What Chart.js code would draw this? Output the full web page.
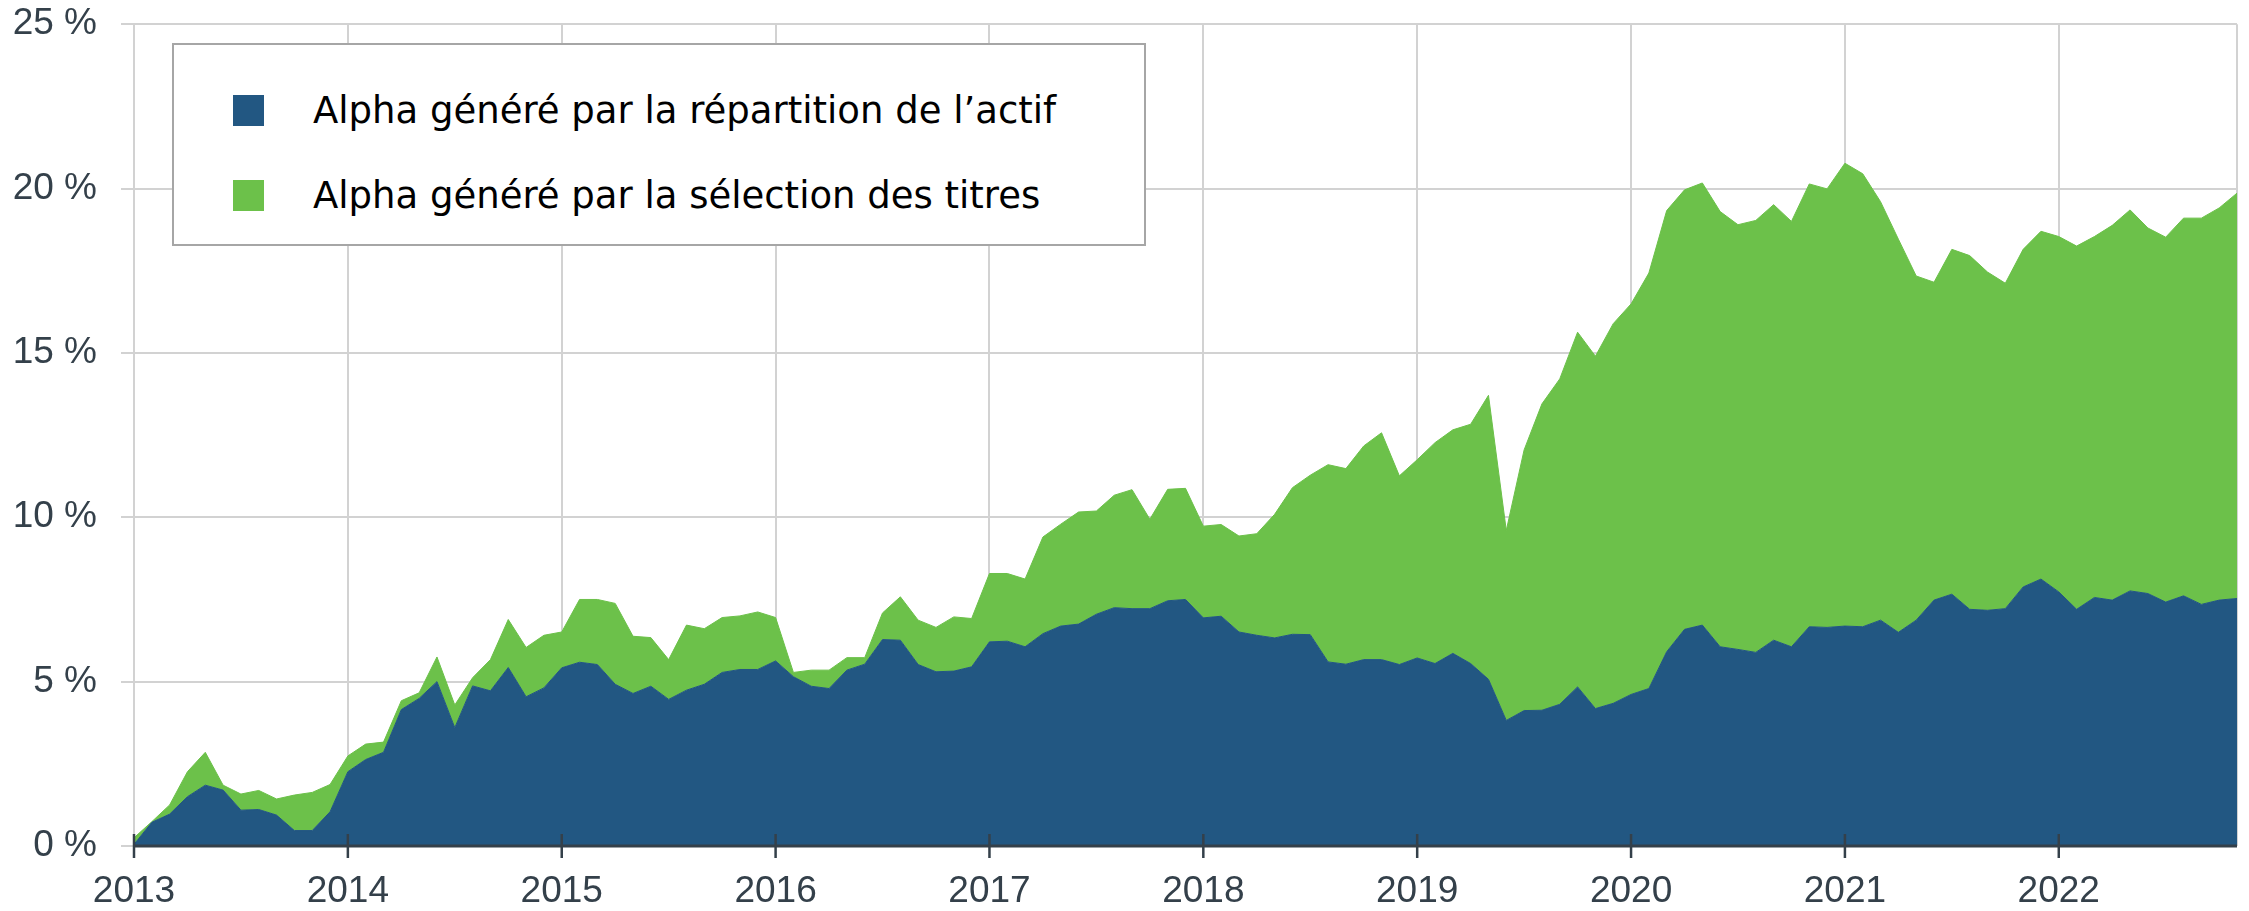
<!DOCTYPE html>
<html>
<head>
<meta charset="utf-8">
<script src="https://cdn.jsdelivr.net/npm/chart.js@4"></script>
<style>
  body { margin: 0; background: #fff; }
  #wrap { position: relative; width: 2249px; height: 911px; }
  #legend {
    position: absolute; left: 172px; top: 43px; width: 970px; height: 199px;
    background: #fff; border: 2px solid #a6a6a6;
    font-family: "DejaVu Sans", "Liberation Sans", sans-serif; font-size: 37px; color: #000;
  }
  .item { position: absolute; left: 59px; height: 40px; display: flex; align-items: center; white-space: nowrap; }
  .box { width: 31px; height: 31px; margin-right: 49px; }
</style>
</head>
<body>
<div id="wrap">
  <canvas id="chart"></canvas>
  <div id="legend"></div>
</div>
<script>
const yearLabels = ["2013", "2014", "2015", "2016", "2017", "2018", "2019", "2020", "2021", "2022"];

// monthly values, Jan 2013 - Nov 2022 (%)
const allocation = [
  0.05, 0.72, 0.97, 1.50, 1.85, 1.70, 1.09, 1.11, 0.94, 0.47, 0.47, 1.04,
  2.26, 2.63, 2.85, 4.15, 4.49, 5.00, 3.60, 4.87, 4.72, 5.43, 4.54, 4.81,
  5.42, 5.59, 5.52, 4.92, 4.64, 4.86, 4.46, 4.74, 4.92, 5.28, 5.37, 5.37,
  5.63, 5.15, 4.86, 4.79, 5.35, 5.53, 6.28, 6.26, 5.52, 5.30, 5.32, 5.45,
  6.21, 6.23, 6.06, 6.46, 6.69, 6.75, 7.05, 7.25, 7.22, 7.22, 7.46, 7.50,
  6.94, 6.99, 6.51, 6.41, 6.33, 6.44, 6.43, 5.60, 5.53, 5.67, 5.67, 5.52,
  5.72, 5.55, 5.86, 5.55, 5.07, 3.82, 4.12, 4.13, 4.31, 4.84, 4.18, 4.34,
  4.61, 4.79, 5.91, 6.59, 6.72, 6.06, 5.98, 5.89, 6.26, 6.06, 6.67, 6.65,
  6.69, 6.67, 6.87, 6.50, 6.87, 7.48, 7.66, 7.20, 7.17, 7.22, 7.88, 8.12,
  7.73, 7.20, 7.56, 7.48, 7.76, 7.68, 7.42, 7.61, 7.35, 7.48, 7.53
];

const selection = [
  0.20, 0.02, 0.28, 0.76, 1.00, 0.15, 0.49, 0.58, 0.49, 1.08, 1.16, 0.83,
  0.48, 0.47, 0.31, 0.27, 0.17, 0.75, 0.69, 0.25, 0.95, 1.46, 1.50, 1.60,
  1.09, 1.91, 1.98, 2.46, 1.74, 1.48, 1.21, 1.98, 1.69, 1.67, 1.63, 1.75,
  1.32, 0.13, 0.49, 0.56, 0.38, 0.20, 0.81, 1.32, 1.35, 1.35, 1.65, 1.47,
  2.08, 2.06, 2.06, 2.94, 3.10, 3.41, 3.14, 3.42, 3.62, 2.72, 3.39, 3.38,
  2.79, 2.79, 2.92, 3.09, 3.76, 4.46, 4.85, 6.00, 5.95, 6.50, 6.90, 5.74,
  6.03, 6.72, 6.80, 7.28, 8.64, 5.78, 7.93, 9.32, 9.90, 10.79, 10.72, 11.55,
  11.88, 12.64, 13.42, 13.37, 13.45, 13.24, 12.92, 13.14, 13.25, 12.94, 13.47, 13.34,
  14.08, 13.78, 12.73, 11.96, 10.47, 9.67, 10.49, 10.76, 10.29, 9.90, 10.27, 10.58,
  10.81, 11.05, 10.98, 11.40, 11.59, 11.12, 11.10, 11.49, 11.75, 11.93, 12.33
];

const seriesNames = ["Alpha généré par la répartition de l’actif", "Alpha généré par la sélection des titres"];
const seriesColors = ["#225782", "#6cc14a"];

const months = [];
yearLabels.forEach((y) => {
  for (let m = 1; m <= 12; m++) months.push(y + "-" + String(m).padStart(2, "0"));
});
months.length = allocation.length;

const axisColor = "#34404a";
const gridColor = "#d2d2d2";
const fontFamily = "'Liberation Sans', Arial, sans-serif";

// dark year ticks crossing the x axis, drawn over the areas
const axisTicks = {
  id: "axisTicks",
  afterDatasetsDraw(chart) {
    const { ctx, scales: { x }, chartArea } = chart;
    ctx.save();
    ctx.strokeStyle = axisColor;
    ctx.lineWidth = 3;
    ctx.beginPath();
    ctx.moveTo(chartArea.left, chartArea.bottom);
    ctx.lineTo(chartArea.right, chartArea.bottom);
    ctx.stroke();
    ctx.lineWidth = 2.5;
    x.ticks.forEach((t, i) => {
      if (i % 12 !== 0) return;
      const px = x.getPixelForTick(i);
      ctx.beginPath();
      ctx.moveTo(px, chartArea.bottom - 12);
      ctx.lineTo(px, chartArea.bottom + 12);
      ctx.stroke();
    });
    ctx.restore();
  },
};

const canvas = document.getElementById("chart");
const chart = new Chart(canvas.getContext("2d"), {
  type: "line",
  data: {
    labels: months,
    datasets: [
      {
        label: seriesNames[0],
        data: allocation,
        backgroundColor: seriesColors[0],
        borderColor: seriesColors[0],
        borderWidth: 1,
        pointRadius: 0,
        fill: "origin",
      },
      {
        label: seriesNames[1],
        data: selection,
        backgroundColor: seriesColors[1],
        borderColor: seriesColors[1],
        borderWidth: 1,
        pointRadius: 0,
        fill: "-1",
      },
    ],
  },
  options: {
    responsive: true,
    maintainAspectRatio: false,
    animation: false,
    devicePixelRatio: 1,
    layout: { padding: { top: 0, right: 12, left: 0, bottom: 0 } },
    plugins: {
      legend: { display: false },
      tooltip: { enabled: false },
    },
    elements: { line: { tension: 0 } },
    scales: {
      x: {
        type: "category",
        offset: false,
        afterFit: (scale) => { scale.height = 65; },
        grid: {
          drawTicks: true,
          tickLength: 24,
          tickColor: "transparent",
          lineWidth: 2,
          color: (c) => (c.index % 12 === 0 || c.index === months.length - 1 ? gridColor : "transparent"),
        },
        border: { display: false },
        ticks: {
          autoSkip: false,
          maxRotation: 0,
          minRotation: 0,
          padding: 0,
          color: axisColor,
          font: { family: fontFamily, size: 37 },
          callback: (v, i) => (i % 12 === 0 ? yearLabels[i / 12] : ""),
        },
      },
      y: {
        stacked: true,
        min: 0,
        max: 25,
        afterFit: (scale) => { scale.width = 134; },
        grid: { color: gridColor, lineWidth: 2, tickLength: 13 },
        border: { color: gridColor, width: 2 },
        ticks: {
          stepSize: 5,
          padding: 24,
          color: axisColor,
          font: { family: fontFamily, size: 37, lineHeight: 0.01 },
          callback: (v) => v + " %",
        },
      },
    },
  },
  plugins: [axisTicks],
});

// legend box drawn over the plot, as in the original
const legend = document.getElementById("legend");
seriesNames.forEach((name, k) => {
  const item = document.createElement("div");
  item.className = "item";
  item.style.top = (k === 0 ? 45 : 130) + "px";
  const sw = document.createElement("span");
  sw.className = "box";
  sw.style.background = seriesColors[k];
  const txt = document.createElement("span");
  txt.textContent = name;
  item.appendChild(sw);
  item.appendChild(txt);
  legend.appendChild(item);
});
</script>
</body>
</html>
